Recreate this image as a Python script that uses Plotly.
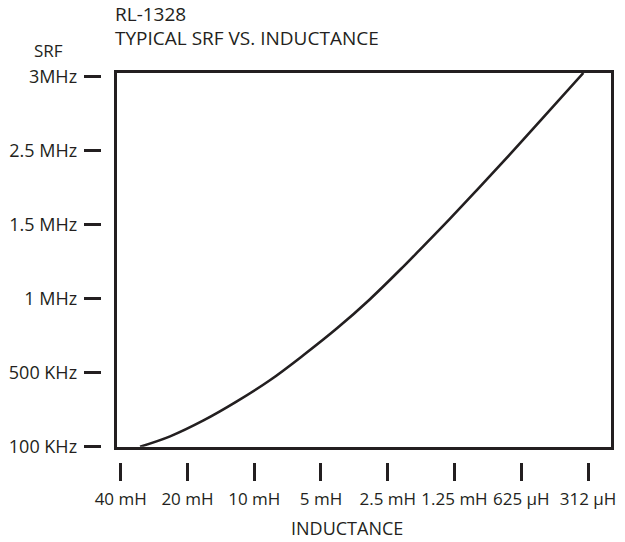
import plotly.graph_objects as go

# ---- data ----
inductance_labels = ["40 mH", "20 mH", "10 mH", "5 mH", "2.5 mH", "1.25 mH", "625 µH", "312 µH"]
inductance_pos = [0, 1, 2, 3, 4, 5, 6, 7]
srf_labels = ["100 KHz", "500 KHz", "1 MHz", "1.5 MHz", "2.5 MHz", "3MHz"]
srf_pos = [0, 1, 2, 3, 4, 5]
# typical SRF curve, expressed in axis tick-index units
curve_x = [0.29, 0.74, 1.24, 1.74, 2.24, 2.74, 3.24, 3.73, 4.23, 4.48, 4.93, 5.38, 5.83, 6.28, 6.93]
curve_y = [0.0, 0.14, 0.355, 0.612, 0.901, 1.239, 1.600, 1.99, 2.43, 2.66, 3.08, 3.51, 3.95, 4.40, 5.05]

INK = "#231f20"
FONT = "Open Sans"
W, H = 625, 542
L, R, T, B = 0, 14, 73, 0
PW = W - L - R
PH = H - T - B

def px_x(px):
    return (px - L) / PW

def px_y(py):
    return (H - B - py) / PH

x_range = [-0.0554, 7.3443]
y_range = [0.0, 5.05]

fig = go.Figure()
fig.add_trace(go.Scatter(
    x=curve_x, y=curve_y, mode="lines",
    line=dict(color=INK, width=2.6, shape="spline", smoothing=1.0),
    hoverinfo="skip", xaxis="x", yaxis="y",
))
# same series on the overlaid tick axes (transparent) so those axes are drawn
fig.add_trace(go.Scatter(
    x=curve_x, y=curve_y, mode="lines",
    line=dict(color="rgba(0,0,0,0)", width=1),
    hoverinfo="skip", xaxis="x2", yaxis="y2",
))

fig.update_layout(
    width=W, height=H, autosize=False,
    margin=dict(l=L, r=R, t=T, b=B),
    plot_bgcolor="white", paper_bgcolor="white",
    showlegend=False,
    font=dict(family=FONT, size=16, color=INK),
    xaxis=dict(
        domain=[px_x(117), 1], range=x_range,
        showline=True, mirror=True, linewidth=3, linecolor=INK,
        showgrid=False, zeroline=False, showticklabels=False, ticks="",
        fixedrange=True,
    ),
    yaxis=dict(
        domain=[px_y(446.7), 1], range=y_range,
        showline=True, mirror=True, linewidth=3, linecolor=INK,
        showgrid=False, zeroline=False, showticklabels=False, ticks="",
        fixedrange=True,
    ),
    xaxis2=dict(
        overlaying="x", anchor="free", position=px_y(462), side="bottom",
        domain=[px_x(117), 1], range=x_range,
        tickmode="array", tickvals=inductance_pos, ticktext=inductance_labels,
        ticks="outside", ticklen=18, tickwidth=3, tickcolor=INK,
        tickangle=0, ticklabelstandoff=4,
        showline=False, showgrid=False, zeroline=False,
        tickfont=dict(family=FONT, size=17, color=INK),
        fixedrange=True, automargin=False,
    ),
    yaxis2=dict(
        overlaying="y", anchor="free", position=px_x(100.7), side="left",
        domain=[px_y(446.7), 1], range=y_range,
        tickmode="array", tickvals=srf_pos, ticktext=srf_labels,
        ticks="outside", ticklen=17, tickwidth=2.5, tickcolor=INK,
        showline=False, showgrid=False, zeroline=False,
        tickfont=dict(family=FONT, size=18, color=INK),
        ticklabelstandoff=3,
        fixedrange=True, automargin=False,
    ),
    annotations=[
        dict(text="RL-1328", x=px_x(113), y=px_y(14), xref="paper", yref="paper",
             xanchor="left", yanchor="middle", showarrow=False,
             font=dict(family=FONT, size=19, color=INK)),
        dict(text="TYPICAL SRF VS. INDUCTANCE", x=px_x(113), y=px_y(38), xref="paper", yref="paper",
             xanchor="left", yanchor="middle", showarrow=False,
             font=dict(family=FONT, size=19, color=INK)),
        dict(text="SRF", x=px_x(48), y=px_y(51), xref="paper", yref="paper",
             xanchor="center", yanchor="middle", showarrow=False,
             font=dict(family=FONT, size=17, color=INK)),
        dict(text="INDUCTANCE", x=px_x(347), y=px_y(528), xref="paper", yref="paper",
             xanchor="center", yanchor="middle", showarrow=False,
             font=dict(family=FONT, size=18, color=INK)),
    ],
)

fig.write_html(
    "out.html",
    config={"responsive": False, "displayModeBar": False},
    post_script="document.body.style.margin='0';document.body.style.overflow='hidden';",
)
